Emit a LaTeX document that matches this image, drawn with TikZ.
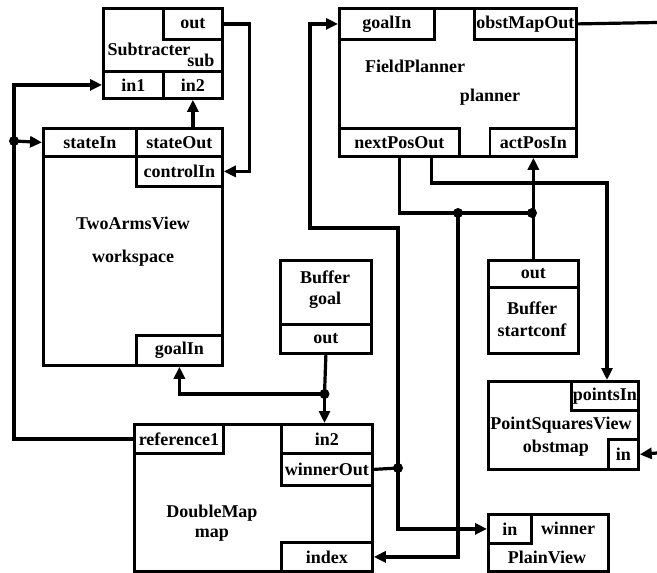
\documentclass[tikz,border=0pt]{standalone}
\usepackage{fontspec}
\setmainfont{Liberation Serif}
\usetikzlibrary{arrows.meta}
\newcommand{\lblfont}{\fontsize{18}{20}\selectfont\bfseries}
\begin{document}
\begin{tikzpicture}[x=1pt,y=-1pt,
  box/.style={draw, line width=3.2pt, inner sep=0pt, anchor=north west},
  port/.style={draw, line width=2.8pt, inner sep=0pt, anchor=north west, font=\lblfont},
  ttl/.style={inner sep=0pt, font=\lblfont},
  wire/.style={line width=3.2pt},
  arr/.style={wire, -{Triangle[length=12pt,width=11pt]}},
]
\useasboundingbox (0,0) rectangle (657,573);

% Subtracter
\node[box, minimum width=119pt, minimum height=90pt] (sub) at (102,7) {};
\node[port, minimum width=59pt, minimum height=31pt] (sout) at (162,7) {out};
\node[port, minimum width=60pt, minimum height=27pt] (sin1) at (102,70) {in1};
\node[port, minimum width=59pt, minimum height=27pt] (sin2) at (162,70) {in2};
\node[ttl] (subt) at (149,49) {Subtracter};
\node[ttl] (subn) at (201,60) {sub};

% TwoArmsView
\node[box, minimum width=179pt, minimum height=237pt] (two) at (42,127) {};
\node[port, minimum width=93pt, minimum height=28pt] (tsin) at (42,127) {stateIn};
\node[port, minimum width=86pt, minimum height=28pt] (tsout) at (135,127) {stateOut};
\node[port, minimum width=86pt, minimum height=30pt] (tctrl) at (135,155) {controlIn};
\node[port, minimum width=86pt, minimum height=30pt] (tgoal) at (135,334) {goalIn};
\node[ttl] (twot) at (133,223) {TwoArmsView};
\node[ttl] (twon) at (133,258) {workspace};

% FieldPlanner
\node[box, minimum width=237pt, minimum height=148pt] (fp) at (338,7) {};
\node[port, minimum width=95pt, minimum height=31pt] (fgoal) at (338,7) {goalIn};
\node[port, minimum width=102pt, minimum height=31pt] (fobst) at (473,7) {obstMapOut};
\node[port, minimum width=120pt, minimum height=28pt] (fnext) at (338,127) {nextPosOut};
\node[port, minimum width=87pt, minimum height=28pt] (factpos) at (488.5,127) {actPosIn};
\node[ttl] (fpt) at (415,66) {FieldPlanner};
\node[ttl] (fpn) at (490,97) {planner};

% Buffer goal
\node[box, minimum width=91pt, minimum height=93pt] (bg) at (279,259) {};
\node[port, minimum width=91pt, minimum height=29pt] (gout) at (279,323) {out};
\node[ttl] (bgt) at (325,277) {Buffer};
\node[ttl] (bgn) at (325,300) {goal};

% Buffer startconf
\node[box, minimum width=90pt, minimum height=93pt] (bs) at (487,259) {};
\node[port, minimum width=90pt, minimum height=27pt] (bout) at (487,259) {out};
\node[ttl] (bst) at (532,308) {Buffer};
\node[ttl] (bsn) at (532,330) {startconf};

% PointSquaresView
\node[box, minimum width=150pt, minimum height=88pt] (psv) at (487,380) {};
\node[port, minimum width=67pt, minimum height=29pt] (ppts) at (570,380) {pointsIn};
\node[port, minimum width=30pt, minimum height=30pt] (pin) at (607,438) {in};
\node[ttl] (psvt) at (561,425) {PointSquaresView};
\node[ttl] (psvn) at (556,448) {obstmap};

% DoubleMap
\node[box, minimum width=238pt, minimum height=147pt] (dm) at (133,423) {};
\node[port, minimum width=89pt, minimum height=29pt] (dref) at (133,423) {reference1};
\node[port, minimum width=91pt, minimum height=29pt] (din2) at (280,423) {in2};
\node[port, minimum width=91pt, minimum height=32pt] (dwin) at (280,452) {winnerOut};
\node[port, minimum width=91pt, minimum height=29pt] (dindex) at (280,541) {index};
\node[ttl] (dmt) at (212,513) {DoubleMap};
\node[ttl] (dmn) at (212,535) {map};

% PlainView
\node[box, minimum width=120pt, minimum height=57pt] (pv) at (487,513) {};
\node[port, minimum width=43pt, minimum height=29pt] (pvin) at (487,513) {in};
\node[ttl] (pvt) at (568,528) {winner};
\node[ttl] (pvn) at (547,557) {PlainView};

% coordinates
\coordinate (j1) at (14,141);
\coordinate (j2) at (324.5,394);
\coordinate (j3) at (398,468);
\coordinate (j4) at (458,213);
\coordinate (j5) at (532,213);
\coordinate (c1) at (398,228);
\coordinate (c2) at (310,228);
\coordinate (c3) at (607,183);
\coordinate (e1) at (657,22.5);
\coordinate (e2) at (657,453);

% wires
\draw[arr] (sout.east) -- ++(26,0) |- (tctrl.east);
\draw[arr] (sin2.south |- tsout.north) -- (sin2.south);
\draw[arr] (dref.west) -| (j1) |- (sin1.west);
\draw[arr] (j1) -- (tsin.west);
\draw[wire] (gout.south) -- (j2);
\draw[arr] (j2) -- (j2 |- din2.north);
\draw[arr] (j2) -| (tgoal.south);
\draw[wire] (dwin.east) -- (j3);
\draw[arr] (j3) -- (c1) -- (c2) |- (fgoal.west);
\draw[arr] (j3) |- (pvin.west);
\draw[wire] (fnext.south) |- (j4);
\draw[arr] (j4) |- (dindex.east);
\draw[wire] (j4) -- (j5);
\draw[arr] (bout.north) -- (factpos.south);
\draw[arr] ([xshift=32pt]fnext.south) |- (c3) -- (c3 |- ppts.north);
\draw[wire] (fobst.east) -- (e1);
\draw[arr] (e2) -- (pin.east);

\foreach \j in {j1,j2,j3,j4,j5} \fill (\j) circle (5pt);
\end{tikzpicture}
\end{document}
